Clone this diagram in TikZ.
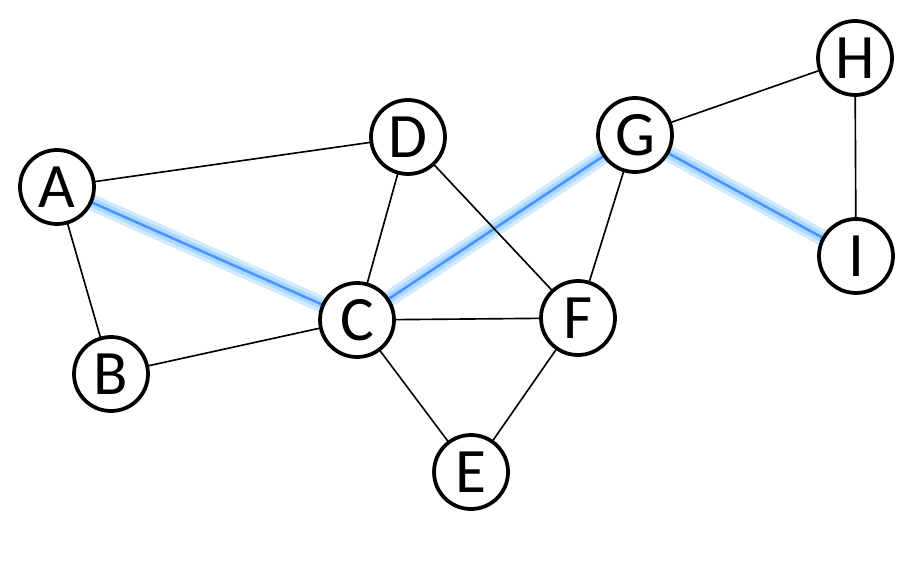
\documentclass[tikz,border=0pt]{standalone}
\usepackage{fontspec}
\setmainfont{Carlito}
\usetikzlibrary{positioning, backgrounds}
\begin{document}
\begin{tikzpicture}[x=0.03cm, y=-0.03cm]
	\tikzstyle{vertex} = [draw=black, circle, line width=3.2pt, fill=white, minimum size=2.22cm, inner sep=0pt, font=\fontsize{54}{54}\selectfont]
	\tikzstyle{edge} = [line width=1.4pt]
	\tikzstyle{glow} = [line width=14pt, draw=blue!45!cyan, opacity=0.18]
	\tikzstyle{path} = [line width=2.2pt, draw=blue!60!cyan!70!white]
	\useasboundingbox (0,0) rectangle (907,572);
	
	\node[vertex]	at (57, 187)	(a)	{A};
	\node[vertex]	at (111, 374)	(b)	{B};
	\node[vertex]	at (357, 320)	(c)	{C};
	\node[vertex]	at (408, 137)	(d)	{D};
	\node[vertex]	at (471, 472)	(e)	{E};
	\node[vertex]	at (578, 318)	(f)	{F};
	\node[vertex]	at (635, 135)	(g)	{G};
	\node[vertex]	at (855, 58)	(h)	{H};
	\node[vertex]	at (856, 256)	(i)	{I};
	
	\begin{scope}[on background layer]
		% highlighted path
		\foreach \u/\v in {a/c, c/g, g/i} {
			\draw[glow] (\u.center) -- (\v.center);
			\draw[glow, line width=8pt] (\u.center) -- (\v.center);
			\draw[path] (\u.center) -- (\v.center);
		}
		\foreach \u/\v in {a/d, a/b, b/c, c/d, c/f, c/e, d/f, g/f, g/h, h/i, e/f}
			\draw[edge] (\u.center) -- (\v.center);
	\end{scope}
\end{tikzpicture}
\end{document}
